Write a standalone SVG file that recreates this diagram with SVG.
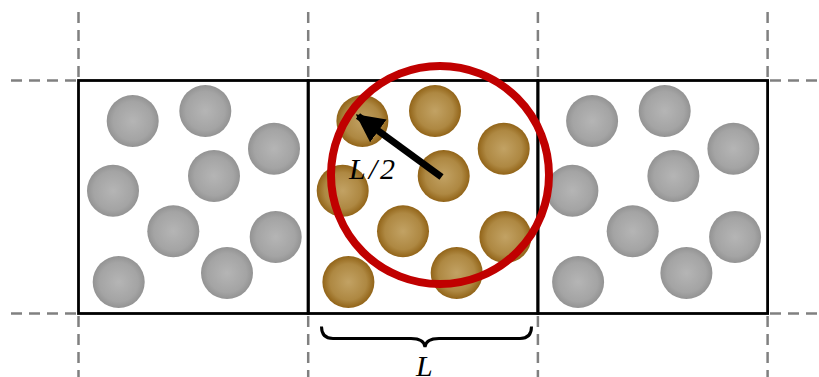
<svg xmlns="http://www.w3.org/2000/svg" width="819" height="377" viewBox="0 0 819 377">
<defs>
<radialGradient id="gGray" cx="0.5" cy="0.5" r="0.5">
<stop offset="0" stop-color="#b5b5b5"/>
<stop offset="0.75" stop-color="#a4a4a4"/>
<stop offset="1" stop-color="#939393"/>
</radialGradient>
<radialGradient id="gBrown" cx="0.5" cy="0.5" r="0.5">
<stop offset="0" stop-color="#c2a264"/>
<stop offset="0.7" stop-color="#ae8842"/>
<stop offset="1" stop-color="#926418"/>
</radialGradient>
<g id="set">
<circle cx="132.7" cy="121" r="26"/>
<circle cx="205.3" cy="111" r="26"/>
<circle cx="274" cy="148.7" r="26"/>
<circle cx="113" cy="190.7" r="26"/>
<circle cx="214" cy="176" r="26"/>
<circle cx="173.3" cy="231.3" r="26"/>
<circle cx="275.7" cy="237" r="26"/>
<circle cx="118.7" cy="282" r="26"/>
<circle cx="227" cy="273" r="26"/>
</g>
<marker id="ah" viewBox="0 0 10 10" refX="9" refY="5" markerWidth="4" markerHeight="4.2" markerUnits="strokeWidth" orient="auto">
<path d="M0,0 L10,5 L0,10 Z" fill="#000"/>
</marker>
</defs>
<style>
.dash{stroke:#808080;stroke-width:2.5;stroke-dasharray:11 7;fill:none}
.box{stroke:#000;stroke-width:2.8;fill:none}
.lbl{font-family:"Liberation Serif",serif;font-style:italic;font-size:30px;fill:#000}
</style>
<rect width="819" height="377" fill="#fff"/>
<g id="guides">
<line class="dash" x1="78.5" y1="12" x2="78.5" y2="78"/>
<line class="dash" x1="308.2" y1="12" x2="308.2" y2="78"/>
<line class="dash" x1="537.9" y1="12" x2="537.9" y2="78"/>
<line class="dash" x1="767.6" y1="12" x2="767.6" y2="78"/>
<line class="dash" x1="78.5" y1="316" x2="78.5" y2="377"/>
<line class="dash" x1="308.2" y1="316" x2="308.2" y2="377"/>
<line class="dash" x1="537.9" y1="316" x2="537.9" y2="377"/>
<line class="dash" x1="767.6" y1="316" x2="767.6" y2="377"/>
<line class="dash" x1="11" y1="80.5" x2="76" y2="80.5"/>
<line class="dash" x1="11" y1="313.5" x2="76" y2="313.5"/>
<line class="dash" x1="770" y1="80.5" x2="819" y2="80.5"/>
<line class="dash" x1="770" y1="313.5" x2="819" y2="313.5"/>
</g>
<g id="box-left">
<use href="#set" fill="url(#gGray)"/>
<rect class="box" x="78.5" y="80.5" width="229.7" height="233"/>
</g>
<g id="box-center">
<use href="#set" transform="translate(229.7,0)" fill="url(#gBrown)"/>
<rect class="box" x="308.2" y="80.5" width="229.7" height="233"/>
</g>
<g id="box-right">
<use href="#set" transform="translate(459.4,0)" fill="url(#gGray)"/>
<rect class="box" x="537.9" y="80.5" width="229.7" height="233"/>
</g>
<g id="cutoff-sphere">
<circle cx="440" cy="175" r="109" fill="none" stroke="#c00000" stroke-width="8"/>
</g>
<g id="connectors">
<line x1="441.5" y1="177" x2="358" y2="116" stroke="#000" stroke-width="7" marker-end="url(#ah)"/>
<path d="M321.5,326.5 Q321.5,338.5 333,338.5 L411,338.5 Q424,338.5 425,347 Q426,338.5 439,338.5 L520,338.5 Q531.5,338.5 531.5,326.5" fill="none" stroke="#000" stroke-width="3"/>
</g>
<g id="labels">
<text class="lbl" x="349" y="178.5" letter-spacing="3">L/2</text>
<text class="lbl" x="416" y="376">L</text>
</g>
</svg>
